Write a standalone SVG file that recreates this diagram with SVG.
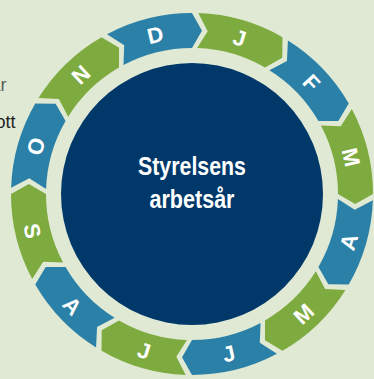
<svg xmlns="http://www.w3.org/2000/svg" xmlns:xlink="http://www.w3.org/1999/xlink" width="374" height="379" viewBox="0 0 374 379">
  <style>
    .bg { fill: #e0e9d3; }
    .blue { fill: #2b80a8; }
    .green { fill: #7eab3f; }
    .core { fill: #01386a; }
    .mon { font-family: "Liberation Sans", Arial, sans-serif; font-weight: bold; font-size: 22px; fill: #ffffff; text-anchor: middle; }
    .title { font-family: "Liberation Sans Narrow", "Liberation Sans", Arial, sans-serif; font-weight: bold; font-size: 25px; fill: #ffffff; text-anchor: middle; }
    .frag { font-family: "Liberation Sans Narrow", "Liberation Sans", Arial, sans-serif; font-size: 18px; text-anchor: end; }
  </style>
  <defs>
    <path id="seg" d="M 6.317 -180.890 A 181 181 0 0 1 90.5 -156.751 L 90.242 -136.340 L 73 -126.440 A 146 146 0 0 0 5.095 -145.911 L 15.671 -162.747 Z"/>
  </defs>
  <rect class="bg" x="0" y="0" width="374" height="379"/>
  <text class="frag" x="6.5" y="91" fill="#5b5b5b">ar</text>
  <text class="frag" x="15.5" y="128" fill="#231f20">ott</text>

  <g transform="translate(192,194)">
    <g id="month-dec"><use xlink:href="#seg" class="blue" transform="rotate(-30)"/><text class="mon" transform="rotate(-13) translate(0,-163.5)" y="8">D</text></g>
    <g id="month-jan"><use xlink:href="#seg" class="green" transform="rotate(0)"/><text class="mon" transform="rotate(17) translate(0,-163.5)" y="8">J</text></g>
    <g id="month-feb"><use xlink:href="#seg" class="blue" transform="rotate(30)"/><text class="mon" transform="rotate(47) translate(0,-163.5)" y="8">F</text></g>
    <g id="month-mar"><use xlink:href="#seg" class="green" transform="rotate(60)"/><text class="mon" transform="rotate(77) translate(0,-163.5)" y="8">M</text></g>
    <g id="month-apr"><use xlink:href="#seg" class="blue" transform="rotate(90)"/><text class="mon" transform="rotate(107) translate(0,-163.5) rotate(180)" y="8">A</text></g>
    <g id="month-may"><use xlink:href="#seg" class="green" transform="rotate(120)"/><text class="mon" transform="rotate(137) translate(0,-163.5) rotate(180)" y="8">M</text></g>
    <g id="month-jun"><use xlink:href="#seg" class="blue" transform="rotate(150)"/><text class="mon" transform="rotate(167) translate(0,-163.5) rotate(180)" y="8">J</text></g>
    <g id="month-jul"><use xlink:href="#seg" class="green" transform="rotate(180)"/><text class="mon" transform="rotate(197) translate(0,-163.5) rotate(180)" y="8">J</text></g>
    <g id="month-aug"><use xlink:href="#seg" class="blue" transform="rotate(210)"/><text class="mon" transform="rotate(227) translate(0,-163.5) rotate(180)" y="8">A</text></g>
    <g id="month-sep"><use xlink:href="#seg" class="green" transform="rotate(240)"/><text class="mon" transform="rotate(257) translate(0,-163.5) rotate(180)" y="8">S</text></g>
    <g id="month-oct"><use xlink:href="#seg" class="blue" transform="rotate(270)"/><text class="mon" transform="rotate(287) translate(0,-163.5)" y="8">O</text></g>
    <g id="month-nov"><use xlink:href="#seg" class="green" transform="rotate(300)"/><text class="mon" transform="rotate(317) translate(0,-163.5)" y="8">N</text></g>
  </g>

  <g id="center">
    <circle class="core" cx="192" cy="194" r="131"/>
    <text class="title" x="192" y="175" textLength="108" lengthAdjust="spacingAndGlyphs">Styrelsens</text>
    <text class="title" x="192" y="208" textLength="85" lengthAdjust="spacingAndGlyphs">arbetsår</text>
  </g>
</svg>
